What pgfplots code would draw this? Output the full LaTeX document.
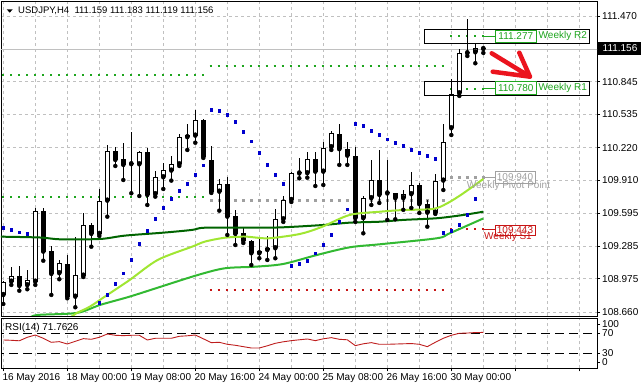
\documentclass[border=0pt]{standalone}
\usepackage{fontspec}
\setmainfont{Liberation Sans}
\usepackage{pgfplots}
\pgfplotsset{compat=1.18}
\usepackage{pgfplotstable}

\definecolor{maDark}{RGB}{0,100,0}
\definecolor{maLime}{RGB}{160,230,50}
\definecolor{maMid}{RGB}{50,185,50}
\definecolor{pivGreen}{RGB}{30,165,30}
\definecolor{pivGray}{RGB}{160,160,160}
\definecolor{pivRed}{RGB}{200,20,20}
\definecolor{sarBlue}{RGB}{0,0,205}
\definecolor{gridGray}{RGB}{192,192,192}
\definecolor{rsiRed}{RGB}{190,30,30}
\definecolor{arrowRed}{RGB}{235,20,30}

\pgfplotstableread{
i o h l c
0 108.821 108.954 108.736 108.948
1 108.948 109.090 108.917 109.002
2 109.002 109.100 108.862 108.907
3 108.914 109.059 108.876 108.964
4 108.948 109.648 108.917 109.619
5 109.619 109.650 109.147 109.233
6 109.239 109.290 108.822 109.021
7 109.028 109.154 108.971 109.123
8 109.116 109.201 108.790 108.805
9 108.805 109.375 108.705 109.011
10 109.005 109.597 108.992 109.486
11 109.486 109.508 109.280 109.401
12 109.401 109.828 109.382 109.714
13 109.717 110.246 109.565 110.189
14 110.189 110.229 110.046 110.103
15 110.113 110.262 109.913 110.056
16 110.067 110.372 109.787 110.063
17 110.062 110.189 109.761 110.179
18 110.179 110.214 109.676 109.771
19 109.778 110.002 109.755 109.939
20 109.939 110.072 109.828 110.008
21 110.002 110.141 109.907 110.065
22 110.062 110.350 110.046 110.319
23 110.319 110.442 110.198 110.340
24 110.334 110.578 110.267 110.483
25 110.483 110.492 110.122 110.134
26 110.103 110.236 109.790 109.802
27 109.802 109.920 109.622 109.872
28 109.872 109.945 109.391 109.565
29 109.572 109.628 109.296 109.401
30 109.407 109.470 109.315 109.337
31 109.337 109.344 109.106 109.217
32 109.217 109.375 109.170 109.239
33 109.249 109.382 109.154 109.271
34 109.265 109.638 109.170 109.543
35 109.540 109.761 109.515 109.723
36 109.723 109.992 109.704 109.977
37 109.977 110.119 109.929 109.975
38 109.977 110.176 109.935 110.110
39 110.110 110.176 109.856 109.992
40 109.992 110.271 109.866 110.220
41 110.224 110.381 110.198 110.357
42 110.350 110.445 110.056 110.205
43 110.205 110.271 110.056 110.144
44 110.141 110.224 109.515 109.550
45 109.550 109.761 109.407 109.740
46 109.740 110.103 109.676 109.910
47 109.913 110.198 109.695 109.771
48 109.789 110.103 109.534 109.785
49 109.787 109.793 109.540 109.740
50 109.740 109.818 109.630 109.780
51 109.778 109.992 109.648 109.866
52 109.866 109.888 109.600 109.683
53 109.685 109.723 109.470 109.603
54 109.603 109.970 109.591 109.907
55 109.907 110.442 109.818 110.277
56 110.404 110.869 110.340 110.730
57 110.736 111.154 110.711 111.116
58 111.125 111.439 111.090 111.116
59 111.125 111.217 111.021 111.163
60 111.159 111.183 111.119 111.156
}\candles

\begin{document}
\begin{tikzpicture}[font=\fontsize{10}{12}\selectfont]
\useasboundingbox (0pt,0pt) rectangle (641pt,390pt);

% ---------------- main price pane ----------------
\begin{axis}[
  at={(1pt,74pt)}, anchor=south west,
  width=596pt, height=315pt, scale only axis,
  xmin=-0.2875, xmax=74.21,
  ymin=108.622, ymax=111.612,
  axis line style={black, line width=0.8pt},
  xtick={0,4,...,72}, xticklabels={}, xtick style={draw=none},
  xmajorgrids, ymajorgrids,
  grid style={gridGray, dash pattern=on 3pt off 3pt, line width=0.7pt},
  ytick={108.660,108.975,109.285,109.595,109.910,110.220,110.535,110.845,111.470},
  yticklabels={108.660,108.975,109.285,109.595,109.910,110.220,110.535,110.845,111.470},
  ytick pos=right, yticklabel pos=right, tick align=outside,
  major tick length=3pt,
  ytick style={black, line width=0.8pt},
  yticklabel style={font=\fontsize{10}{12}\selectfont, anchor=west, inner sep=0pt, xshift=2pt},
]
% pivot levels, week A
\addplot[pivGreen, line width=2pt, dash pattern=on 2pt off 6pt, forget plot] coordinates {(-0.125,110.910) (25.2,110.910)};
\addplot[pivGreen, line width=2pt, dash pattern=on 2pt off 6pt, forget plot] coordinates {(-0.125,109.755) (25.2,109.755)};
% week B
\addplot[pivGreen, line width=2pt, dash pattern=on 2pt off 6pt, forget plot] coordinates {(25.8,110.998) (55.2,110.998)};
\addplot[pivGray, line width=3pt, dash pattern=on 3pt off 5pt, forget plot] coordinates {(25.81,109.723) (55.2,109.723)};
\addplot[pivRed, line width=2pt, dash pattern=on 2pt off 6pt, forget plot] coordinates {(25.8,108.869) (55.2,108.869)};
% week C
\addplot[pivGreen, line width=2pt, dash pattern=on 2pt off 6pt, forget plot] coordinates {(55.875,111.277) (60.2,111.277)};
\addplot[pivGreen, line width=2pt, dash pattern=on 2pt off 6pt, forget plot] coordinates {(55.875,110.780) (60.2,110.780)};
\addplot[pivGray, line width=3pt, dash pattern=on 3pt off 5pt, forget plot] coordinates {(55.81,109.940) (60.2,109.940)};
\addplot[pivRed, line width=2pt, dash pattern=on 2pt off 6pt, forget plot] coordinates {(55.875,109.443) (60.2,109.443)};
% bid line
\addplot[gridGray, line width=0.8pt, forget plot] coordinates {(-1,111.156) (75,111.156)};

% candle wicks
\addplot[only marks, mark=none, forget plot,
  error bars/.cd, y dir=plus, y explicit, error mark=none,
  error bar style={black, line width=1pt}]
  table[x=i, y=l, y error plus expr={\thisrow{h}-\thisrow{l}}] {\candles};
% candle bodies (outline / black fill)
\addplot[only marks, mark=none, forget plot,
  error bars/.cd, y dir=plus, y explicit, error mark=none,
  error bar style={black, line width=5pt}]
  table[x=i, y expr={min(\thisrow{o},\thisrow{c})},
        y error plus expr={max(abs(\thisrow{c}-\thisrow{o}),0.0095)}] {\candles};
% white inside of rising candles
\addplot[only marks, mark=none, forget plot,
  error bars/.cd, y dir=plus, y explicit, error mark=none,
  error bar style={white, line width=3pt}]
  table[x=i, y expr={min(\thisrow{o},\thisrow{c})+0.0095},
        y error plus expr={max(\thisrow{c}-\thisrow{o}-0.019,0)}] {\candles};

% moving averages
\addplot[maDark, line width=2pt, smooth, forget plot] coordinates {
(-0.4,109.375) (4.6,109.367) (7.1,109.350) (12.1,109.353) (15.2,109.385) (20,109.413)
(23.6,109.439) (25.2,109.460) (31.5,109.460) (35,109.464) (40,109.486) (43.3,109.508)
(47.1,109.517) (50,109.534) (54.2,109.550) (57.5,109.581) (60,109.612)};
\addplot[maMid, line width=2pt, smooth, forget plot] coordinates {
(3.3,108.603) (4.3,108.632) (9.2,108.651) (12.1,108.727) (15.8,108.806) (19.6,108.898)
(24.3,109.011) (27.7,109.075) (31.5,109.090) (35,109.116) (39.2,109.201) (43.3,109.274)
(47.1,109.303) (54.2,109.360) (55.8,109.407) (60,109.548)};
\addplot[maLime, line width=2pt, smooth, forget plot] coordinates {
(8.3,108.603) (9.2,108.651) (10.8,108.710) (13,108.822) (15.8,108.964) (19.3,109.154)
(23.6,109.280) (25.2,109.328) (27.7,109.365) (30.2,109.375) (31.5,109.367) (33.3,109.360)
(37.1,109.401) (39.8,109.467) (43.3,109.581) (47.1,109.612) (50,109.628) (53.7,109.638)
(55.5,109.692) (57.5,109.787) (60,109.923)};

% parabolic SAR
\addplot[only marks, mark=square*, mark size=1.3pt, sarBlue, forget plot] coordinates {
(0,109.460) (1,109.439) (2,109.417) (3,109.401)
(12,108.746) (13,108.822) (14,108.926) (15,109.027) (16,109.154) (17,109.306)
(18,109.429) (19,109.543) (20,109.648) (21,109.733) (22,109.809) (23,109.875)
(24,109.961) (25,110.053)
(26,110.578) (27,110.568) (28,110.530) (29,110.464) (30,110.369) (31,110.283)
(32,110.172) (33,110.056) (34,109.961) (35,109.875)
(36,109.097) (37,109.116) (38,109.147) (39,109.217) (40,109.296) (41,109.391)
(42,109.515) (43,109.635)
(44,110.445) (45,110.426) (46,110.378) (47,110.340) (48,110.302) (49,110.267)
(50,110.236) (51,110.198) (52,110.170) (53,110.141) (54,110.113)
(55,109.410) (56,109.432) (57,109.486) (58,109.586) (59,109.733)};
\end{axis}

% ---------------- RSI pane ----------------
\begin{axis}[
  at={(1pt,21.7pt)}, anchor=south west,
  width=596pt, height=50pt, scale only axis,
  xmin=-0.2875, xmax=74.21, ymin=0, ymax=100,
  axis line style={black, line width=0.8pt},
  xtick={0,8,...,72},
  xticklabels={16 May 2016,18 May 00:00,19 May 08:00,20 May 16:00,24 May 00:00,25 May 08:00,26 May 16:00,30 May 00:00,,},
  minor xtick={4,12,...,68},
  xmajorgrids, xminorgrids,
  grid style={gridGray, dash pattern=on 3pt off 3pt, line width=0.7pt},
  minor grid style={gridGray, dash pattern=on 3pt off 3pt, line width=0.7pt},
  minor tick length=0pt,
  xtick pos=left, ytick pos=right, yticklabel pos=right,
  tick align=outside, major tick length=3pt,
  tick style={black, line width=0.8pt},
  ytick={12,30,70,88}, yticklabels={0,30,70,100},
  xticklabel style={font=\fontsize{10}{12}\selectfont, anchor=north west, inner sep=0pt, yshift=-2pt, xshift=-1pt},
  yticklabel style={font=\fontsize{10}{12}\selectfont, anchor=west, inner sep=0pt, xshift=2pt},
]
\addplot[black, line width=0.8pt, dash pattern=on 9pt off 5pt, forget plot] coordinates {(-1,70) (75,70)};
\addplot[black, line width=0.8pt, dash pattern=on 9pt off 5pt, forget plot] coordinates {(-1,30) (75,30)};
\addplot[rsiRed, line width=0.9pt, forget plot] coordinates {
(0,56.6) (1,56) (2,55) (3,62) (4,66.6) (5,60) (6,52) (7,53.3) (8,48.6) (9,54)
(10,59.3) (11,58) (12,62) (13,68.6) (14,66) (15,65.3) (16,66) (17,66) (18,56.6) (19,60)
(20,60) (21,60) (22,64) (23,65) (24,66.6) (25,59) (26,51.3) (27,52) (28,48) (29,46)
(30,43.3) (31,40.6) (32,40.6) (33,45) (34,50) (35,53) (36,55.3) (37,57) (38,58.6) (39,55.3)
(40,59) (41,61.3) (42,58) (43,57) (44,45.3) (45,49) (46,51.3) (47,48) (48,48) (49,48.5)
(50,49) (51,49.5) (52,48) (53,43.3) (54,52) (55,60) (56,66) (57,70) (58,70.5) (59,71.5)
(60,71.76)};
\end{axis}

% ---------------- annotations ----------------
% title
\fill[black] (6.7pt,380.7pt) -- (12.7pt,380.7pt) -- (9.7pt,377.3pt) -- cycle;
\node[anchor=west, inner sep=0pt, font=\fontsize{9.5}{11}\selectfont] at (18pt,379.3pt) {USDJPY,H4\ \ 111.159 111.183 111.119 111.156};
% RSI caption
\node[anchor=west, inner sep=0pt] at (5pt,62pt) {RSI(14) 71.7626};
% bid box
\fill[black] (598pt,335pt) rectangle (641pt,348pt);
\node[anchor=west, inner sep=0pt, text=white] at (602.5pt,341.5pt) {111.156};

% Weekly R2
\draw[black, line width=0.8pt] (424pt,346.7pt) rectangle (589pt,360.7pt);
\draw[pivGreen, line width=1pt] (483pt,353.7pt) -- (495.5pt,353.7pt);
\draw[pivGreen, line width=0.9pt, fill=white] (495.5pt,347.5pt) rectangle (536pt,360pt);
\node[pivGreen, inner sep=0pt] at (515.8pt,353.6pt) {111.277};
\node[pivGreen, anchor=west, inner sep=0pt] at (538.5pt,353.6pt) {Weekly R2};
% Weekly R1
\draw[black, line width=0.8pt] (424pt,295pt) rectangle (589pt,309pt);
\draw[pivGreen, line width=1pt] (483pt,301.3pt) -- (495.5pt,301.3pt);
\draw[pivGreen, line width=0.9pt, fill=white] (495.5pt,295.6pt) rectangle (536pt,308.2pt);
\node[pivGreen, inner sep=0pt] at (515.8pt,301.7pt) {110.780};
\node[pivGreen, anchor=west, inner sep=0pt] at (538.5pt,301.7pt) {Weekly R1};
% Weekly Pivot
\draw[pivGray, line width=1pt] (483pt,212.7pt) -- (495pt,212.7pt);
\draw[pivGray, line width=0.9pt] (495pt,206.7pt) rectangle (535pt,218.3pt);
\node[pivGray, inner sep=0pt] at (515pt,212.6pt) {109.940};
\node[pivGray, inner sep=0pt] at (508.5pt,203.6pt) {Weekly Pivot Point};
% Weekly S1
\draw[pivRed, line width=1pt] (483pt,160.5pt) -- (495pt,160.5pt);
\draw[pivRed, line width=0.9pt] (495pt,155pt) rectangle (535pt,165pt);
\node[pivRed, inner sep=0pt] at (515pt,160.2pt) {109.443};
\node[pivRed, inner sep=0pt] at (508pt,152.6pt) {Weekly S1};

% red hand-drawn arrow
\draw[arrowRed, line width=4.5pt, line cap=round, line join=round]
  (491.7pt,336.7pt) -- (530pt,313.3pt)
  (519.3pt,337.3pt) -- (530pt,313.3pt) -- (492.7pt,318.3pt);
\end{tikzpicture}
\end{document}
